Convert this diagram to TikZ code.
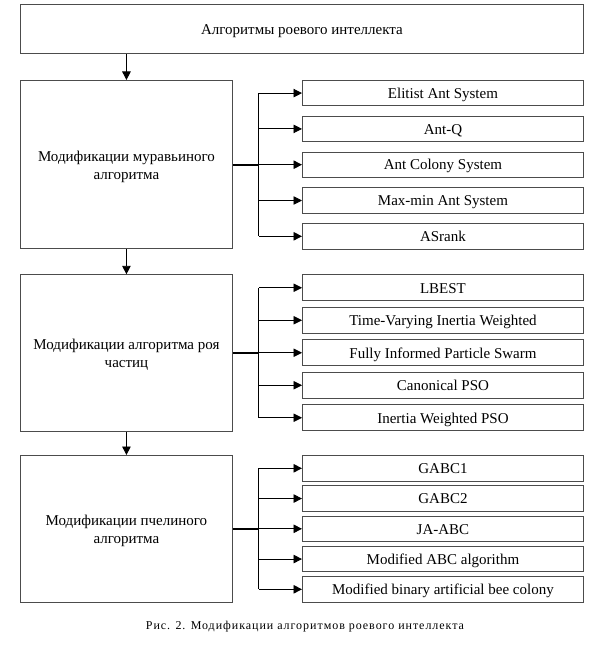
\documentclass[tikz,border=0pt]{standalone}
\usepackage{fontspec}
\setmainfont{Liberation Serif}
\newfontfamily\capfont[LetterSpace=8]{Liberation Serif}
\usetikzlibrary{arrows.meta}
\newcommand{\firstlinestrut}{\rule{0pt}{14.5pt}}
\begin{document}
\begin{tikzpicture}[x=1pt,y=-1pt,
  box/.style={draw=black!70, line width=0.9pt, inner sep=0pt, anchor=north west,
    font=\fontsize{15}{18}\selectfont, align=center},
  item/.style={box, text height=12.5pt, text depth=2pt},
  conn/.style={draw=black, line width=0.9pt},
  stub/.style={draw=black, line width=2pt},
  arr/.style={conn, -{Triangle[length=8.5pt,width=8.5pt]}}]
\useasboundingbox (0,0) rectangle (604,650);

\node[item, minimum width=563pt, minimum height=49.3pt] (top) at (20,4) {Алгоритмы роевого интеллекта};

% section 1
\node[box, minimum width=212pt, minimum height=168.3pt] (g1) at (20,80) {\firstlinestrut Модификации муравьиного\\алгоритма};
\foreach \txt [count=\i] in {Elitist Ant System, Ant-Q, Ant Colony System, Max-min Ant System, ASrank}
  \node[item, minimum width=281pt, minimum height=25.3pt] (a\i) at (302,{80+35.8*(\i-1)}) {\txt};

% section 2
\node[box, minimum width=212pt, minimum height=156.7pt] (g2) at (20,274.3) {\firstlinestrut Модификации алгоритма роя\\частиц};
\foreach \txt [count=\i] in {LBEST, Time-Varying Inertia Weighted, Fully Informed Particle Swarm, Canonical PSO, Inertia Weighted PSO}
  \node[item, minimum width=281pt, minimum height=26pt] (b\i) at (302,{274.3+32.5*(\i-1)}) {\txt};

% section 3
\node[box, minimum width=212pt, minimum height=146.7pt] (g3) at (20,455) {\firstlinestrut Модификации пчелиного\\алгоритма};
\foreach \txt [count=\i] in {GABC1, GABC2, JA-ABC, Modified ABC algorithm, Modified binary artificial bee colony}
  \node[item, minimum width=281pt, minimum height=25.7pt] (c\i) at (302,{455+30.25*(\i-1)}) {\txt};

% vertical arrows
\draw[arr] (g1.north |- top.south) -- (g1.north);
\draw[arr] (g1.south) -- (g2.north);
\draw[arr] (g2.south) -- (g3.north);

% buses
\foreach \g/\s in {g1/a, g2/b, g3/c} {
  \coordinate (bus\g) at ([xshift=26pt]\g.east);
  \draw[stub] (\g.east) -- (bus\g);
  \draw[conn] (bus\g |- \s1.west) -- (bus\g |- \s5.west);
  \foreach \i in {1,...,5}
    \draw[arr] (bus\g |- \s\i.west) -- (\s\i.west);
}

\node (cap) at (305,627) {\capfont\fontsize{12}{14}\selectfont Рис. 2. Модификации алгоритмов роевого интеллекта};
\end{tikzpicture}
\end{document}
